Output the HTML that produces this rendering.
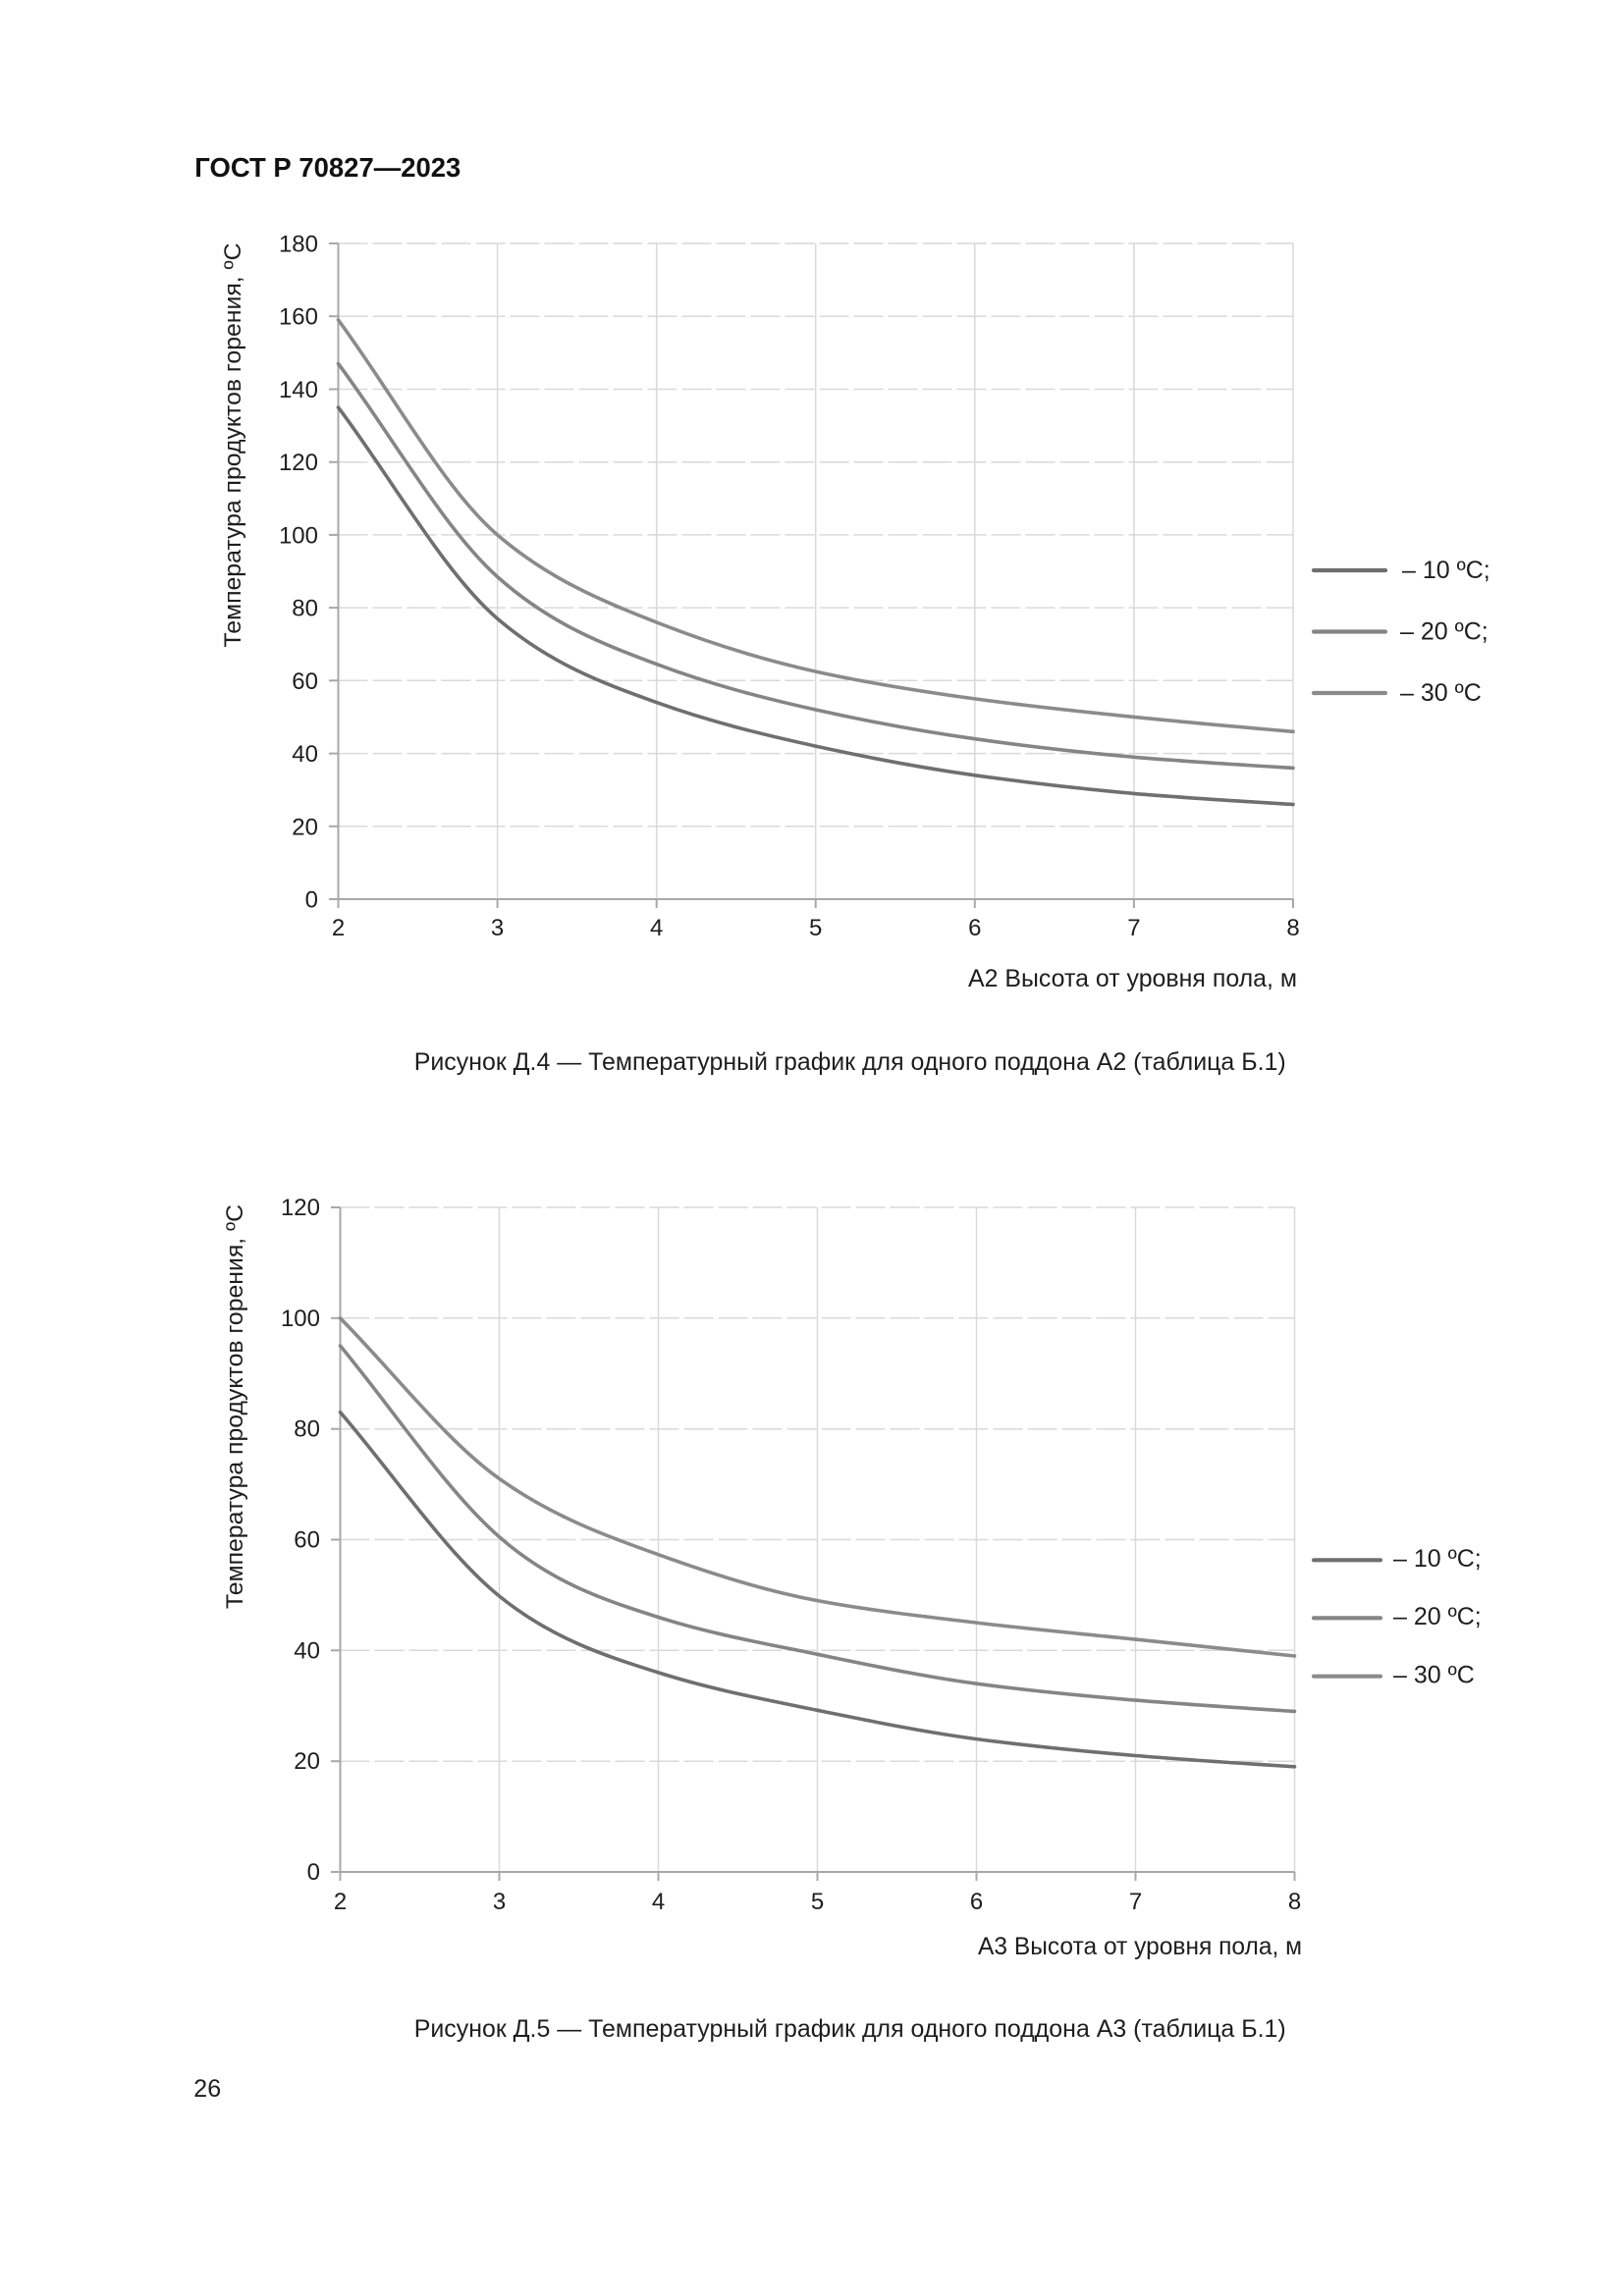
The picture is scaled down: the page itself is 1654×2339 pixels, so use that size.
<!DOCTYPE html>
<html>
<head>
<meta charset="utf-8">
<style>
html,body{margin:0;padding:0;background:#fff;}
svg{display:block;}
text{font-family:"Liberation Sans",Arial,sans-serif;fill:#1e1e1e;}
</style>
</head>
<body>
<svg width="1654" height="2339" viewBox="0 0 1654 2339" xmlns="http://www.w3.org/2000/svg">
<rect width="1654" height="2339" fill="#fff"/>

<!-- Header -->
<text x="198.3" y="180" font-size="27.5" font-weight="bold" textLength="271" lengthAdjust="spacingAndGlyphs" style="fill:#111">ГОСТ Р 70827—2023</text>

<!-- ============ CHART 1 ============ -->
<g>
  <g stroke="#d9d9d9" stroke-width="1.5" stroke-dasharray="30 5" fill="none">
    <line x1="344.5" y1="248" x2="1317" y2="248"/>
    <line x1="344.5" y1="322.2" x2="1317" y2="322.2"/>
    <line x1="344.5" y1="396.5" x2="1317" y2="396.5"/>
    <line x1="344.5" y1="470.7" x2="1317" y2="470.7"/>
    <line x1="344.5" y1="544.9" x2="1317" y2="544.9"/>
    <line x1="344.5" y1="619.1" x2="1317" y2="619.1"/>
    <line x1="344.5" y1="693.3" x2="1317" y2="693.3"/>
    <line x1="344.5" y1="767.6" x2="1317" y2="767.6"/>
    <line x1="344.5" y1="841.8" x2="1317" y2="841.8"/>
  </g>
  <g stroke="#d9d9d9" stroke-width="1.5">
    <line x1="506.6" y1="248" x2="506.6" y2="916"/>
    <line x1="668.7" y1="248" x2="668.7" y2="916"/>
    <line x1="830.7" y1="248" x2="830.7" y2="916"/>
    <line x1="992.8" y1="248" x2="992.8" y2="916"/>
    <line x1="1154.9" y1="248" x2="1154.9" y2="916"/>
    <line x1="1317" y1="248" x2="1317" y2="916"/>
  </g>
  <g stroke="#a8a8a8" stroke-width="2">
    <line x1="344.5" y1="248" x2="344.5" y2="925"/>
    <line x1="335" y1="916" x2="1317" y2="916"/>
    <line x1="335" y1="248" x2="344.5" y2="248"/>
    <line x1="335" y1="322.2" x2="344.5" y2="322.2"/>
    <line x1="335" y1="396.5" x2="344.5" y2="396.5"/>
    <line x1="335" y1="470.7" x2="344.5" y2="470.7"/>
    <line x1="335" y1="544.9" x2="344.5" y2="544.9"/>
    <line x1="335" y1="619.1" x2="344.5" y2="619.1"/>
    <line x1="335" y1="693.3" x2="344.5" y2="693.3"/>
    <line x1="335" y1="767.6" x2="344.5" y2="767.6"/>
    <line x1="335" y1="841.8" x2="344.5" y2="841.8"/>
    <line x1="506.6" y1="916" x2="506.6" y2="925"/>
    <line x1="668.7" y1="916" x2="668.7" y2="925"/>
    <line x1="830.7" y1="916" x2="830.7" y2="925"/>
    <line x1="992.8" y1="916" x2="992.8" y2="925"/>
    <line x1="1154.9" y1="916" x2="1154.9" y2="925"/>
    <line x1="1317" y1="916" x2="1317" y2="925"/>
  </g>
  <g font-size="24" text-anchor="end">
    <text x="324" y="256.5">180</text>
    <text x="324" y="330.7">160</text>
    <text x="324" y="405">140</text>
    <text x="324" y="479.2">120</text>
    <text x="324" y="553.4">100</text>
    <text x="324" y="627.6">80</text>
    <text x="324" y="701.8">60</text>
    <text x="324" y="776.1">40</text>
    <text x="324" y="850.3">20</text>
    <text x="324" y="924.5">0</text>
  </g>
  <g font-size="24" text-anchor="middle">
    <text x="344.5" y="953">2</text>
    <text x="506.6" y="953">3</text>
    <text x="668.7" y="953">4</text>
    <text x="830.7" y="953">5</text>
    <text x="992.8" y="953">6</text>
    <text x="1154.9" y="953">7</text>
    <text x="1317" y="953">8</text>
  </g>
  <text transform="translate(245,453.5) rotate(-90)" font-size="24.5" text-anchor="middle" textLength="412" lengthAdjust="spacingAndGlyphs">Температура продуктов горения, ºС</text>
  <text x="1321" y="1005" font-size="25" text-anchor="end" textLength="335" lengthAdjust="spacingAndGlyphs">А2 Высота от уровня пола, м</text>

  <g fill="none" stroke-width="3.6" stroke-linecap="round" stroke-linejoin="round">
    <path stroke="#8b8b8b" d="M344.5,325.9 C398.5,398.9 452.6,498.6 506.6,544.9 C560.6,591.2 614.6,612.6 668.7,634 C722.7,655.3 776.7,672.1 830.7,684.1 C884.7,696 938.8,704.5 992.8,711.9 C1046.8,719.3 1100.9,725 1154.9,730.4 C1208.9,735.9 1263,740.6 1317,745.3"/>
    <path stroke="#858585" d="M344.5,370.5 C398.5,442.8 452.6,539.2 506.6,587.6 C560.6,636 614.6,656.3 668.7,676.6 C722.7,697 776.7,711 830.7,723 C884.7,735.1 938.8,745.1 992.8,752.7 C1046.8,760.3 1100.9,766.6 1154.9,771.3 C1208.9,775.9 1263,779.1 1317,782.4"/>
    <path stroke="#6f6f6f" d="M344.5,415 C398.5,486.7 452.6,583.9 506.6,630.2 C560.6,676.6 614.6,696.1 668.7,715.6 C722.7,735.1 776.7,748.3 830.7,760.1 C884.7,772 938.8,782.2 992.8,789.8 C1046.8,797.4 1100.9,803.7 1154.9,808.4 C1208.9,813 1263,816.2 1317,819.5"/>
  </g>

  <g stroke-width="4.2" stroke-linecap="round">
    <line x1="1338" y1="581" x2="1411" y2="581" stroke="#6f6f6f"/>
    <line x1="1338" y1="643.5" x2="1411" y2="643.5" stroke="#858585"/>
    <line x1="1338" y1="706" x2="1411" y2="706" stroke="#8b8b8b"/>
  </g>
  <g font-size="25">
    <text x="1428" y="589">– 10 ºC;</text>
    <text x="1426" y="651.5">– 20 ºC;</text>
    <text x="1426" y="714">– 30 ºC</text>
  </g>
</g>

<text x="421.7" y="1090" font-size="25" textLength="888" lengthAdjust="spacingAndGlyphs">Рисунок Д.4 — Температурный график для одного поддона А2 (таблица Б.1)</text>

<!-- ============ CHART 2 ============ -->
<g>
  <g stroke="#d9d9d9" stroke-width="1.5" stroke-dasharray="30 5" fill="none">
    <line x1="346.5" y1="1230" x2="1318.5" y2="1230"/>
    <line x1="346.5" y1="1342.8" x2="1318.5" y2="1342.8"/>
    <line x1="346.5" y1="1455.7" x2="1318.5" y2="1455.7"/>
    <line x1="346.5" y1="1568.5" x2="1318.5" y2="1568.5"/>
    <line x1="346.5" y1="1681.3" x2="1318.5" y2="1681.3"/>
    <line x1="346.5" y1="1794.2" x2="1318.5" y2="1794.2"/>
  </g>
  <g stroke="#d9d9d9" stroke-width="1.5">
    <line x1="508.5" y1="1230" x2="508.5" y2="1907"/>
    <line x1="670.5" y1="1230" x2="670.5" y2="1907"/>
    <line x1="832.5" y1="1230" x2="832.5" y2="1907"/>
    <line x1="994.5" y1="1230" x2="994.5" y2="1907"/>
    <line x1="1156.5" y1="1230" x2="1156.5" y2="1907"/>
    <line x1="1318.5" y1="1230" x2="1318.5" y2="1907"/>
  </g>
  <g stroke="#a8a8a8" stroke-width="2">
    <line x1="346.5" y1="1230" x2="346.5" y2="1916"/>
    <line x1="337" y1="1907" x2="1318.5" y2="1907"/>
    <line x1="337" y1="1230" x2="346.5" y2="1230"/>
    <line x1="337" y1="1342.8" x2="346.5" y2="1342.8"/>
    <line x1="337" y1="1455.7" x2="346.5" y2="1455.7"/>
    <line x1="337" y1="1568.5" x2="346.5" y2="1568.5"/>
    <line x1="337" y1="1681.3" x2="346.5" y2="1681.3"/>
    <line x1="337" y1="1794.2" x2="346.5" y2="1794.2"/>
    <line x1="508.5" y1="1907" x2="508.5" y2="1916"/>
    <line x1="670.5" y1="1907" x2="670.5" y2="1916"/>
    <line x1="832.5" y1="1907" x2="832.5" y2="1916"/>
    <line x1="994.5" y1="1907" x2="994.5" y2="1916"/>
    <line x1="1156.5" y1="1907" x2="1156.5" y2="1916"/>
    <line x1="1318.5" y1="1907" x2="1318.5" y2="1916"/>
  </g>
  <g font-size="24" text-anchor="end">
    <text x="326" y="1238">120</text>
    <text x="326" y="1350.8">100</text>
    <text x="326" y="1463.7">80</text>
    <text x="326" y="1576.5">60</text>
    <text x="326" y="1689.3">40</text>
    <text x="326" y="1802.2">20</text>
    <text x="326" y="1915">0</text>
  </g>
  <g font-size="24" text-anchor="middle">
    <text x="346.5" y="1945">2</text>
    <text x="508.5" y="1945">3</text>
    <text x="670.5" y="1945">4</text>
    <text x="832.5" y="1945">5</text>
    <text x="994.5" y="1945">6</text>
    <text x="1156.5" y="1945">7</text>
    <text x="1318.5" y="1945">8</text>
  </g>
  <text transform="translate(247,1433) rotate(-90)" font-size="24.5" text-anchor="middle" textLength="412" lengthAdjust="spacingAndGlyphs">Температура продуктов горения, ºС</text>
  <text x="1326" y="1991" font-size="25" text-anchor="end" textLength="330" lengthAdjust="spacingAndGlyphs">А3 Высота от уровня пола, м</text>

  <g fill="none" stroke-width="3.6" stroke-linecap="round" stroke-linejoin="round">
    <path stroke="#8b8b8b" d="M346.5,1342.8 C400.5,1397.4 454.5,1468 508.5,1506.4 C562.5,1544.9 616.5,1564.3 670.5,1583.7 C724.5,1603.2 778.5,1620.4 832.5,1630.6 C886.5,1640.7 940.5,1646.7 994.5,1653.1 C1048.5,1659.7 1102.5,1664.4 1156.5,1670.1 C1210.5,1675.7 1264.5,1681.3 1318.5,1687"/>
    <path stroke="#858585" d="M346.5,1371 C400.5,1435.9 454.5,1518.3 508.5,1565.7 C562.5,1613 616.5,1630.2 670.5,1647.5 C724.5,1664.7 778.5,1674.2 832.5,1685.3 C886.5,1696.4 940.5,1708 994.5,1715.2 C1048.5,1722.4 1102.5,1727.6 1156.5,1732.1 C1210.5,1736.6 1264.5,1740 1318.5,1743.4"/>
    <path stroke="#6f6f6f" d="M346.5,1438.7 C400.5,1501.2 454.5,1582.4 508.5,1626 C562.5,1669.7 616.5,1686.8 670.5,1703.9 C724.5,1721.1 778.5,1731.2 832.5,1742.3 C886.5,1753.3 940.5,1764.4 994.5,1771.6 C1048.5,1778.8 1102.5,1784 1156.5,1788.5 C1210.5,1793 1264.5,1796.4 1318.5,1799.8"/>
  </g>

  <g stroke-width="4.2" stroke-linecap="round">
    <line x1="1338" y1="1589.3" x2="1406" y2="1589.3" stroke="#6f6f6f"/>
    <line x1="1338" y1="1648.3" x2="1406" y2="1648.3" stroke="#858585"/>
    <line x1="1338" y1="1707.7" x2="1406" y2="1707.7" stroke="#8b8b8b"/>
  </g>
  <g font-size="25">
    <text x="1419" y="1596">– 10 ºC;</text>
    <text x="1419" y="1655">– 20 ºC;</text>
    <text x="1419" y="1714.5">– 30 ºC</text>
  </g>
</g>

<text x="421.7" y="2075" font-size="25" textLength="888" lengthAdjust="spacingAndGlyphs">Рисунок Д.5 — Температурный график для одного поддона А3 (таблица Б.1)</text>

<text x="197.3" y="2136" font-size="25">26</text>
</svg>
</body>
</html>
